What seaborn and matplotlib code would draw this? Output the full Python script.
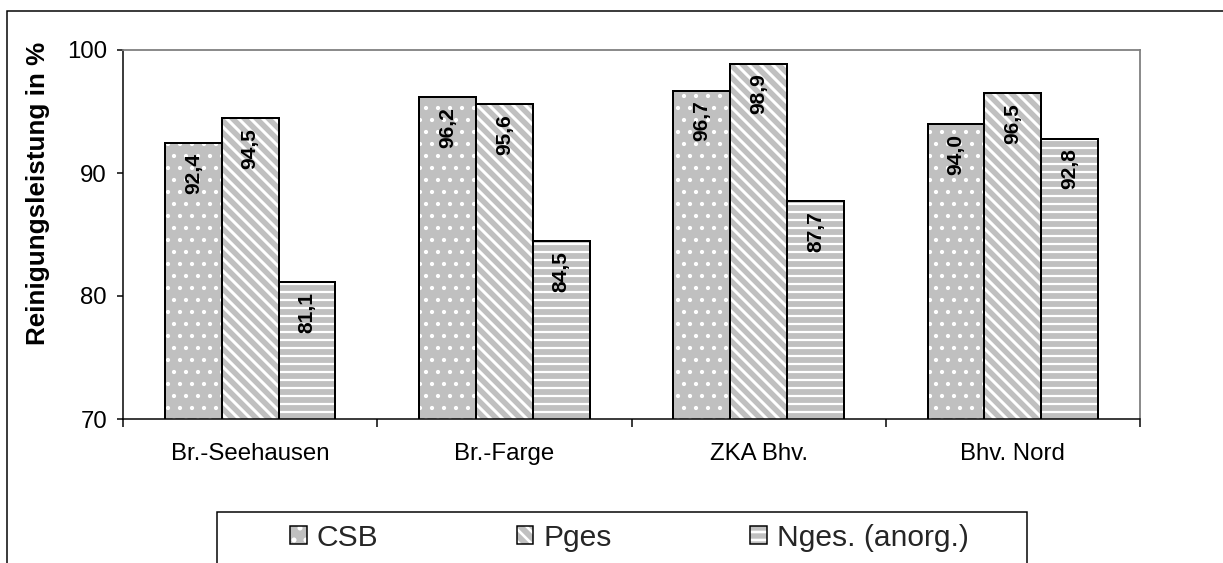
import matplotlib
matplotlib.use("Agg")
import matplotlib.pyplot as plt
import seaborn as sns
import pandas as pd
from matplotlib.patches import Patch, Rectangle
from matplotlib.legend_handler import HandlerTuple

categories = ["Br.-Seehausen", "Br.-Farge", "ZKA Bhv.", "Bhv. Nord"]
series = ["CSB", "Pges", "Nges. (anorg.)"]
csb = [92.4, 96.2, 96.7, 94.0]
pges = [94.5, 95.6, 98.9, 96.5]
nges = [81.1, 84.5, 87.7, 92.8]
y_ticks = [70, 80, 90, 100]
y_label = "Reinigungsleistung in %"

sns.set_theme(style="white")
plt.rcParams['font.family'] = ['Liberation Sans', 'DejaVu Sans']
plt.rcParams['hatch.linewidth'] = 1.3

values = [csb, pges, nges]
df = pd.DataFrame({
    "Anlage": [c for _ in series for c in categories],
    "Parameter": [s for s in series for _ in categories],
    "Wert": [v for vals in values for v in vals],
})

W, H, DPI = 1223, 563, 144
fig = plt.figure(figsize=(W / DPI, H / DPI), dpi=DPI)
fig.patch.set_facecolor("white")
ax = fig.add_axes([123 / W, 1 - 419 / H, (1140 - 123) / W, (419 - 50) / H])

gray = "#c0c0c0"
hatches = ["..", "\\\\\\\\", "---"]
hatch_lw = [0.9, 1.5, 1.1]

# hatched fill (white hatch)
sns.barplot(data=df, x="Anlage", y="Wert", hue="Parameter", order=categories,
            hue_order=series, palette=[gray] * 3, width=0.67, saturation=1,
            edgecolor="white", linewidth=0, errorbar=None, legend=False, ax=ax)
# black outlines
sns.barplot(data=df, x="Anlage", y="Wert", hue="Parameter", order=categories,
            hue_order=series, palette=["black"] * 3, width=0.67, saturation=1,
            fill=False, linewidth=1.0, errorbar=None, legend=False, ax=ax)

for cont, h, lw, vals in zip(ax.containers[:3], hatches, hatch_lw, values):
    for p, v in zip(cont.patches, vals):
        p.set_hatch(h)
        if hasattr(p, "set_hatch_linewidth"):
            p.set_hatch_linewidth(lw)
        ax.annotate(f"{v:.1f}".replace(".", ","),
                    xy=(p.get_x() + p.get_width() / 2, p.get_y() + p.get_height()),
                    xytext=(0, -5), textcoords="offset points", rotation=90,
                    ha="center", va="top", fontsize=10.5, fontweight="bold",
                    color="black")

ax.set_ylim(70, 100)
ax.set_xlim(-0.5, len(categories) - 0.5)
ax.set_yticks(y_ticks)
ax.tick_params(axis="y", direction="out", length=3, width=0.75, pad=5,
               labelsize=12, left=True, colors="black")
ax.tick_params(axis="x", which="major", length=0, pad=12, labelsize=12,
               colors="black")
ax.set_xticks([i - 0.5 for i in range(len(categories) + 1)], minor=True)
ax.tick_params(axis="x", which="minor", direction="out", length=4, width=0.75,
               bottom=True, color="black")

for s in ["left", "bottom"]:
    ax.spines[s].set_color("black")
    ax.spines[s].set_linewidth(0.75)
for s in ["top", "right"]:
    ax.spines[s].set_color("#808080")
    ax.spines[s].set_linewidth(0.9)

ax.set_xlabel("")
ax.set_ylabel(y_label, fontsize=13, fontweight="bold", color="black")
ax.yaxis.set_label_coords(-0.0718, 0.61)

handles = []
for h, lw in zip(hatches, hatch_lw):
    hp = Patch(facecolor=gray, edgecolor="white", linewidth=0, hatch=h)
    if hasattr(hp, "set_hatch_linewidth"):
        hp.set_hatch_linewidth(lw)
    handles.append((hp, Patch(facecolor="none", edgecolor="black", linewidth=0.75)))
fig.legend(handles, series, handler_map={tuple: HandlerTuple(ndivide=1, pad=0)},
           ncol=3, loc="center left", bbox_to_anchor=(290 / W, 1 - 538 / H),
           frameon=False, fontsize=15, handlelength=0.55, handleheight=0.55,
           handletextpad=0.35, columnspacing=4.6, borderpad=0, borderaxespad=0)

# legend box and outer chart frame
fig.add_artist(Rectangle((217 / W, -0.1), 810 / W, 0.1 + (1 - 512 / H),
                         transform=fig.transFigure, fill=False,
                         edgecolor="black", linewidth=0.75))
fig.add_artist(Rectangle((7 / W, -0.1), 1.2, 0.1 + (1 - 11 / H),
                         transform=fig.transFigure, fill=False,
                         edgecolor="black", linewidth=0.75))

fig.savefig("out.png", dpi=DPI)
